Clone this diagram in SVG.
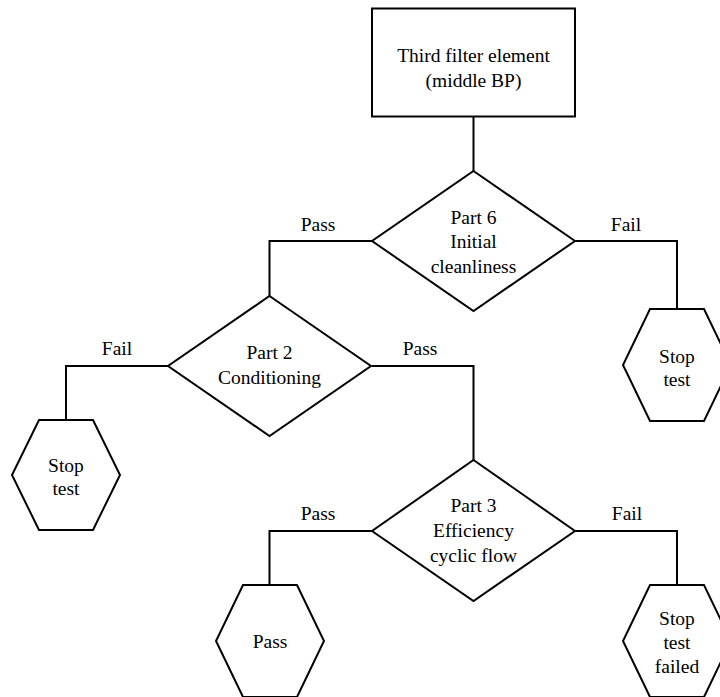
<svg xmlns="http://www.w3.org/2000/svg" width="720" height="697" viewBox="0 0 720 697">
<style>
.s{fill:#fff;stroke:#000;stroke-width:2}
.c{fill:none;stroke:#000;stroke-width:2}
text{font-family:"Liberation Serif","Times New Roman",serif;font-size:19.5px;fill:#000;text-anchor:middle}
</style>
<rect width="720" height="697" fill="#fff"/>
<g id="connectors">
<path class="c" d="M473.5,117 V171"/>
<path class="c" d="M372,241 H269.5 V296"/>
<path class="c" d="M575,241 H677 V309"/>
<path class="c" d="M168,366 H66 V420"/>
<path class="c" d="M372,366 H473.5 V460"/>
<path class="c" d="M372,531 H269.5 V585"/>
<path class="c" d="M575,531 H677 V585"/>
<text x="318" y="231">Pass</text>
<text x="626" y="231">Fail</text>
<text x="117" y="355">Fail</text>
<text x="420" y="355">Pass</text>
<text x="318" y="520">Pass</text>
<text x="627" y="520">Fail</text>
</g>
<g id="start">
<rect class="s" x="372" y="8.5" width="203" height="108"/>
<text x="473.5" y="61.5">Third filter element</text>
<text x="473.5" y="86.5">(middle BP)</text>
</g>
<g id="part6">
<polygon class="s" points="473.5,171 575,241 473.5,311 372,241"/>
<text x="473.5" y="223.5">Part 6</text>
<text x="473.5" y="248">Initial</text>
<text x="473.5" y="272.5">cleanliness</text>
</g>
<g id="stop1">
<polygon class="s" points="650,309 704,309 731,365 704,421 650,421 623,365"/>
<text x="677" y="363">Stop</text>
<text x="677" y="386">test</text>
</g>
<g id="part2">
<polygon class="s" points="269.5,296 371,366 269.5,436 168,366"/>
<text x="269.5" y="358.5">Part 2</text>
<text x="269.5" y="383.5">Conditioning</text>
</g>
<g id="stop2">
<polygon class="s" points="39,420 93,420 120,475 93,530 39,530 12,475"/>
<text x="66" y="472">Stop</text>
<text x="66" y="495">test</text>
</g>
<g id="part3">
<polygon class="s" points="473.5,460 575,531 473.5,601 372,531"/>
<text x="473.5" y="512">Part 3</text>
<text x="473.5" y="537">Efficiency</text>
<text x="473.5" y="561.5">cyclic flow</text>
</g>
<g id="pass">
<polygon class="s" points="243,585 297,585 324,641 297,697 243,697 216,641"/>
<text x="270" y="648">Pass</text>
</g>
<g id="stop3">
<polygon class="s" points="650,585 704,585 731,641 704,697 650,697 623,641"/>
<text x="677" y="625">Stop</text>
<text x="677" y="649">test</text>
<text x="677" y="672.5">failed</text>
</g>
</svg>
